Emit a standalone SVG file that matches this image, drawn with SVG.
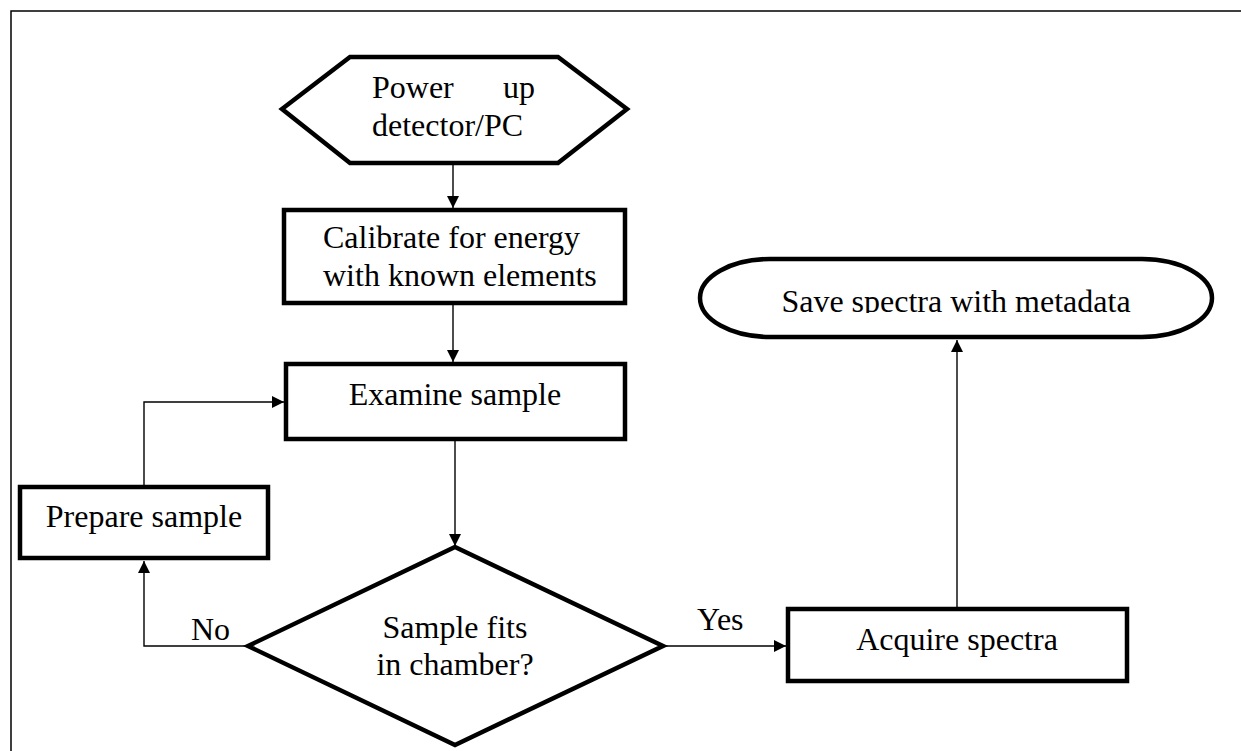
<svg xmlns="http://www.w3.org/2000/svg" width="1241" height="751" viewBox="0 0 1241 751">
  <style>
    .node { fill: #ffffff; stroke: #000000; stroke-width: 4.5; stroke-linejoin: miter; }
    .lbl { font-family: "Liberation Serif", "Times New Roman", serif; font-size: 32px; fill: #000000; }
    .mid { text-anchor: middle; }
    .conn { fill: none; stroke: #000000; stroke-width: 1.4; }
    .frame { fill: none; stroke: #000000; stroke-width: 1.5; }
  </style>
  <defs>
    <marker id="arrow" markerUnits="userSpaceOnUse" markerWidth="13" markerHeight="13" refX="12" refY="6" orient="auto">
      <path d="M0,0 L12,6 L0,12 Z" fill="#000000"/>
    </marker>
    <clipPath id="saveClip">
      <rect x="700" y="250" width="520" height="63"/>
    </clipPath>
  </defs>

  <rect width="1241" height="751" fill="#ffffff"/>

  <!-- page frame (left and top edges) -->
  <path class="frame" d="M11,751 V11 H1241"/>

  <!-- connectors -->
  <g id="connectors">
    <path class="conn" d="M453,163 V208" marker-end="url(#arrow)"/>
    <path class="conn" d="M453,303 V362" marker-end="url(#arrow)"/>
    <path class="conn" d="M455,440 V546" marker-end="url(#arrow)"/>
    <path class="conn" d="M248,646 H144 V561" marker-end="url(#arrow)"/>
    <path class="conn" d="M144,485 V402 H284" marker-end="url(#arrow)"/>
    <path class="conn" d="M663,646 H786" marker-end="url(#arrow)"/>
    <path class="conn" d="M957,607 V340" marker-end="url(#arrow)"/>
    <text class="lbl" x="191" y="640">No</text>
    <text class="lbl" x="697" y="630">Yes</text>
  </g>

  <g id="power-up">
    <polygon class="node" points="282,109 350,57 558,57 627,109 558,163 350,163"/>
    <text class="lbl" x="372" y="98">Power</text>
    <text class="lbl" x="535" y="98" text-anchor="end">up</text>
    <text class="lbl" x="372" y="136">detector/PC</text>
  </g>

  <g id="calibrate">
    <rect class="node" x="284" y="210" width="341" height="93"/>
    <text class="lbl" x="323" y="248">Calibrate for energy</text>
    <text class="lbl" x="323" y="286">with known elements</text>
  </g>

  <g id="examine">
    <rect class="node" x="286" y="364" width="339" height="75"/>
    <text class="lbl mid" x="455" y="405">Examine sample</text>
  </g>

  <g id="prepare">
    <rect class="node" x="20" y="487" width="248" height="71"/>
    <text class="lbl mid" x="144" y="527">Prepare sample</text>
  </g>

  <g id="fits-decision">
    <polygon class="node" points="455,547 663,646 455,745 248,646"/>
    <text class="lbl mid" x="455" y="638">Sample fits</text>
    <text class="lbl mid" x="455" y="675">in chamber?</text>
  </g>

  <g id="acquire">
    <rect class="node" x="788" y="609" width="339" height="72"/>
    <text class="lbl mid" x="957" y="650">Acquire spectra</text>
  </g>

  <g id="save">
    <path class="node" d="M770,259 H1142 A70,39 0 0 1 1142,337 H770 A70,39 0 0 1 770,259 Z"/>
    <text class="lbl mid" x="956" y="312" clip-path="url(#saveClip)">Save spectra with metadata</text>
  </g>
</svg>
